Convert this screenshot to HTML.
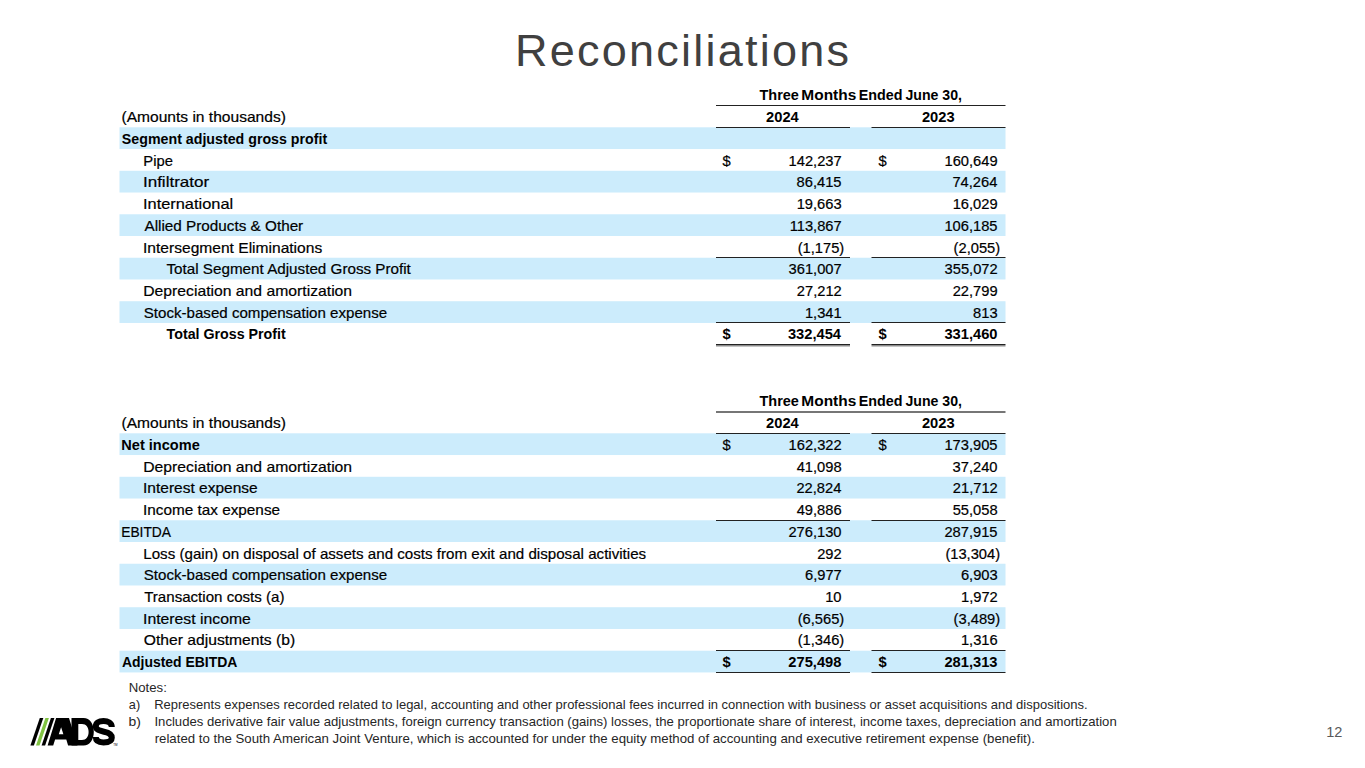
<!DOCTYPE html>
<html><head><meta charset="utf-8"><style>
html,body{margin:0;padding:0;background:#fff;width:1365px;height:768px;overflow:hidden}
svg{display:block;font-family:"Liberation Sans",sans-serif}
</style></head><body>
<svg width="1365" height="768" viewBox="0 0 1365 768">
<text x="759.51" y="99.80" font-size="15.0" font-weight="bold" fill="#000000" textLength="39.42" lengthAdjust="spacingAndGlyphs">Three</text>
<text x="801.37" y="99.80" font-size="15.0" font-weight="bold" fill="#000000" textLength="54.87" lengthAdjust="spacingAndGlyphs">Months</text>
<text x="858.75" y="99.80" font-size="15.0" font-weight="bold" fill="#000000" textLength="43.75" lengthAdjust="spacingAndGlyphs">Ended</text>
<text x="905.41" y="99.80" font-size="15.0" font-weight="bold" fill="#000000" textLength="56.56" lengthAdjust="spacingAndGlyphs">June 30,</text>
<text x="121.47" y="122.20" font-size="15.0" fill="#000000" stroke="#000000" stroke-width="0.2" textLength="164.38" lengthAdjust="spacingAndGlyphs">(Amounts in thousands)</text>
<text x="766.05" y="122.20" font-size="14.7" font-weight="bold" fill="#000000">2024</text>
<text x="921.90" y="122.20" font-size="14.7" font-weight="bold" fill="#000000">2023</text>
<rect x="119.50" y="127.30" width="886.00" height="21.74" fill="#CCECFC"/>
<rect x="119.50" y="170.78" width="886.00" height="21.74" fill="#CCECFC"/>
<rect x="119.50" y="214.26" width="886.00" height="21.74" fill="#CCECFC"/>
<rect x="119.50" y="257.74" width="886.00" height="21.74" fill="#CCECFC"/>
<rect x="119.50" y="301.22" width="886.00" height="21.74" fill="#CCECFC"/>
<rect x="716.00" y="105.00" width="289.50" height="1.00" fill="#222222"/>
<text x="121.83" y="143.80" font-size="15.0" font-weight="bold" fill="#000000" textLength="205.36" lengthAdjust="spacingAndGlyphs">Segment adjusted gross profit</text>
<text x="143.32" y="165.54" font-size="15.0" fill="#000000" stroke="#000000" stroke-width="0.2" textLength="29.60" lengthAdjust="spacingAndGlyphs">Pipe</text>
<text x="722.60" y="165.54" font-size="14.7" fill="#000000" stroke="#000000" stroke-width="0.2" textLength="8.18" lengthAdjust="spacingAndGlyphs">$</text>
<text x="788.60" y="165.54" font-size="14.7" fill="#000000" stroke="#000000" stroke-width="0.2">142,237</text>
<text x="878.40" y="165.54" font-size="14.7" fill="#000000" stroke="#000000" stroke-width="0.2" textLength="8.18" lengthAdjust="spacingAndGlyphs">$</text>
<text x="944.50" y="165.54" font-size="14.7" fill="#000000" stroke="#000000" stroke-width="0.2">160,649</text>
<text x="142.91" y="187.28" font-size="15.0" fill="#000000" stroke="#000000" stroke-width="0.2" textLength="66.36" lengthAdjust="spacingAndGlyphs">Infiltrator</text>
<text x="796.60" y="187.28" font-size="14.7" fill="#000000" stroke="#000000" stroke-width="0.2">86,415</text>
<text x="952.40" y="187.28" font-size="14.7" fill="#000000" stroke="#000000" stroke-width="0.2">74,264</text>
<text x="142.97" y="209.02" font-size="15.0" fill="#000000" stroke="#000000" stroke-width="0.2" textLength="90.18" lengthAdjust="spacingAndGlyphs">International</text>
<text x="796.70" y="209.02" font-size="14.7" fill="#000000" stroke="#000000" stroke-width="0.2">19,663</text>
<text x="952.70" y="209.02" font-size="14.7" fill="#000000" stroke="#000000" stroke-width="0.2">16,029</text>
<text x="144.50" y="230.76" font-size="15.0" fill="#000000" stroke="#000000" stroke-width="0.2" textLength="158.71" lengthAdjust="spacingAndGlyphs">Allied Products &amp; Other</text>
<text x="789.70" y="230.76" font-size="14.7" fill="#000000" stroke="#000000" stroke-width="0.2">113,867</text>
<text x="944.40" y="230.76" font-size="14.7" fill="#000000" stroke="#000000" stroke-width="0.2">106,185</text>
<text x="143.05" y="252.50" font-size="15.0" fill="#000000" stroke="#000000" stroke-width="0.2" textLength="179.15" lengthAdjust="spacingAndGlyphs">Intersegment Eliminations</text>
<text x="797.70" y="252.50" font-size="14.7" fill="#000000" stroke="#000000" stroke-width="0.2">(1,175)</text>
<text x="953.60" y="252.50" font-size="14.7" fill="#000000" stroke="#000000" stroke-width="0.2">(2,055)</text>
<text x="166.50" y="274.24" font-size="15.0" fill="#000000" stroke="#000000" stroke-width="0.2" textLength="244.35" lengthAdjust="spacingAndGlyphs">Total Segment Adjusted Gross Profit</text>
<text x="788.60" y="274.24" font-size="14.7" fill="#000000" stroke="#000000" stroke-width="0.2">361,007</text>
<text x="944.60" y="274.24" font-size="14.7" fill="#000000" stroke="#000000" stroke-width="0.2">355,072</text>
<text x="143.24" y="295.98" font-size="15.0" fill="#000000" stroke="#000000" stroke-width="0.2" textLength="208.88" lengthAdjust="spacingAndGlyphs">Depreciation and amortization</text>
<text x="796.80" y="295.98" font-size="14.7" fill="#000000" stroke="#000000" stroke-width="0.2">27,212</text>
<text x="952.70" y="295.98" font-size="14.7" fill="#000000" stroke="#000000" stroke-width="0.2">22,799</text>
<text x="143.80" y="317.72" font-size="15.0" fill="#000000" stroke="#000000" stroke-width="0.2" textLength="243.32" lengthAdjust="spacingAndGlyphs">Stock-based compensation expense</text>
<text x="804.90" y="317.72" font-size="14.7" fill="#000000" stroke="#000000" stroke-width="0.2">1,341</text>
<text x="973.10" y="317.72" font-size="14.7" fill="#000000" stroke="#000000" stroke-width="0.2">813</text>
<text x="166.61" y="339.46" font-size="15.0" font-weight="bold" fill="#000000" textLength="119.15" lengthAdjust="spacingAndGlyphs">Total Gross Profit</text>
<text x="722.60" y="339.46" font-size="14.7" font-weight="bold" fill="#000000" textLength="8.17" lengthAdjust="spacingAndGlyphs">$</text>
<text x="787.90" y="339.46" font-size="14.7" font-weight="bold" fill="#000000">332,454</text>
<text x="878.40" y="339.46" font-size="14.7" font-weight="bold" fill="#000000" textLength="8.17" lengthAdjust="spacingAndGlyphs">$</text>
<text x="944.40" y="339.46" font-size="14.7" font-weight="bold" fill="#000000">331,460</text>
<rect x="716.00" y="127.00" width="134.00" height="1.00" fill="#222222"/>
<rect x="871.50" y="127.00" width="134.00" height="1.00" fill="#222222"/>
<rect x="716.00" y="257.00" width="134.00" height="1.00" fill="#222222"/>
<rect x="871.50" y="257.00" width="134.00" height="1.00" fill="#222222"/>
<rect x="716.00" y="322.00" width="134.00" height="1.00" fill="#222222"/>
<rect x="871.50" y="322.00" width="134.00" height="1.00" fill="#222222"/>
<rect x="716.00" y="344.00" width="134.00" height="1.00" fill="#222222"/>
<rect x="716.00" y="345.00" width="134.00" height="1.50" fill="#8c8c8c"/>
<rect x="871.50" y="344.00" width="134.00" height="1.00" fill="#222222"/>
<rect x="871.50" y="345.00" width="134.00" height="1.50" fill="#8c8c8c"/>
<text x="759.51" y="405.80" font-size="15.0" font-weight="bold" fill="#000000" textLength="39.42" lengthAdjust="spacingAndGlyphs">Three</text>
<text x="801.37" y="405.80" font-size="15.0" font-weight="bold" fill="#000000" textLength="54.87" lengthAdjust="spacingAndGlyphs">Months</text>
<text x="858.75" y="405.80" font-size="15.0" font-weight="bold" fill="#000000" textLength="43.75" lengthAdjust="spacingAndGlyphs">Ended</text>
<text x="905.41" y="405.80" font-size="15.0" font-weight="bold" fill="#000000" textLength="56.56" lengthAdjust="spacingAndGlyphs">June 30,</text>
<text x="121.47" y="428.30" font-size="15.0" fill="#000000" stroke="#000000" stroke-width="0.2" textLength="164.38" lengthAdjust="spacingAndGlyphs">(Amounts in thousands)</text>
<text x="766.05" y="428.30" font-size="14.7" font-weight="bold" fill="#000000">2024</text>
<text x="921.90" y="428.30" font-size="14.7" font-weight="bold" fill="#000000">2023</text>
<rect x="119.50" y="433.30" width="886.00" height="21.74" fill="#CCECFC"/>
<rect x="119.50" y="476.78" width="886.00" height="21.74" fill="#CCECFC"/>
<rect x="119.50" y="520.26" width="886.00" height="21.74" fill="#CCECFC"/>
<rect x="119.50" y="563.74" width="886.00" height="21.74" fill="#CCECFC"/>
<rect x="119.50" y="607.22" width="886.00" height="21.74" fill="#CCECFC"/>
<rect x="119.50" y="650.70" width="886.00" height="21.74" fill="#CCECFC"/>
<rect x="716.00" y="411.20" width="289.50" height="1.60" fill="#555555"/>
<text x="121.33" y="449.80" font-size="15.0" font-weight="bold" fill="#000000" textLength="78.40" lengthAdjust="spacingAndGlyphs">Net income</text>
<text x="722.60" y="449.80" font-size="14.7" fill="#000000" stroke="#000000" stroke-width="0.2" textLength="8.18" lengthAdjust="spacingAndGlyphs">$</text>
<text x="788.60" y="449.80" font-size="14.7" fill="#000000" stroke="#000000" stroke-width="0.2">162,322</text>
<text x="878.40" y="449.80" font-size="14.7" fill="#000000" stroke="#000000" stroke-width="0.2" textLength="8.18" lengthAdjust="spacingAndGlyphs">$</text>
<text x="944.40" y="449.80" font-size="14.7" fill="#000000" stroke="#000000" stroke-width="0.2">173,905</text>
<text x="143.24" y="471.54" font-size="15.0" fill="#000000" stroke="#000000" stroke-width="0.2" textLength="208.88" lengthAdjust="spacingAndGlyphs">Depreciation and amortization</text>
<text x="796.70" y="471.54" font-size="14.7" fill="#000000" stroke="#000000" stroke-width="0.2">41,098</text>
<text x="952.60" y="471.54" font-size="14.7" fill="#000000" stroke="#000000" stroke-width="0.2">37,240</text>
<text x="143.05" y="493.28" font-size="15.0" fill="#000000" stroke="#000000" stroke-width="0.2" textLength="114.57" lengthAdjust="spacingAndGlyphs">Interest expense</text>
<text x="796.40" y="493.28" font-size="14.7" fill="#000000" stroke="#000000" stroke-width="0.2">22,824</text>
<text x="952.80" y="493.28" font-size="14.7" fill="#000000" stroke="#000000" stroke-width="0.2">21,712</text>
<text x="143.07" y="515.02" font-size="15.0" fill="#000000" stroke="#000000" stroke-width="0.2" textLength="136.99" lengthAdjust="spacingAndGlyphs">Income tax expense</text>
<text x="796.70" y="515.02" font-size="14.7" fill="#000000" stroke="#000000" stroke-width="0.2">49,886</text>
<text x="952.70" y="515.02" font-size="14.7" fill="#000000" stroke="#000000" stroke-width="0.2">55,058</text>
<text x="121.20" y="536.76" font-size="15.0" fill="#000000" stroke="#000000" stroke-width="0.2" textLength="49.78" lengthAdjust="spacingAndGlyphs">EBITDA</text>
<text x="788.40" y="536.76" font-size="14.7" fill="#000000" stroke="#000000" stroke-width="0.2">276,130</text>
<text x="944.40" y="536.76" font-size="14.7" fill="#000000" stroke="#000000" stroke-width="0.2">287,915</text>
<text x="143.29" y="558.50" font-size="15.0" fill="#000000" stroke="#000000" stroke-width="0.2" textLength="502.89" lengthAdjust="spacingAndGlyphs">Loss (gain) on disposal of assets and costs from exit and disposal activities</text>
<text x="817.20" y="558.50" font-size="14.7" fill="#000000" stroke="#000000" stroke-width="0.2">292</text>
<text x="945.40" y="558.50" font-size="14.7" fill="#000000" stroke="#000000" stroke-width="0.2">(13,304)</text>
<text x="143.80" y="580.24" font-size="15.0" fill="#000000" stroke="#000000" stroke-width="0.2" textLength="243.32" lengthAdjust="spacingAndGlyphs">Stock-based compensation expense</text>
<text x="805.00" y="580.24" font-size="14.7" fill="#000000" stroke="#000000" stroke-width="0.2">6,977</text>
<text x="960.90" y="580.24" font-size="14.7" fill="#000000" stroke="#000000" stroke-width="0.2">6,903</text>
<text x="144.20" y="601.98" font-size="15.0" fill="#000000" stroke="#000000" stroke-width="0.2" textLength="140.30" lengthAdjust="spacingAndGlyphs">Transaction costs (a)</text>
<text x="825.20" y="601.98" font-size="14.7" fill="#000000" stroke="#000000" stroke-width="0.2">10</text>
<text x="961.00" y="601.98" font-size="14.7" fill="#000000" stroke="#000000" stroke-width="0.2">1,972</text>
<text x="143.03" y="623.72" font-size="15.0" fill="#000000" stroke="#000000" stroke-width="0.2" textLength="107.85" lengthAdjust="spacingAndGlyphs">Interest income</text>
<text x="797.70" y="623.72" font-size="14.7" fill="#000000" stroke="#000000" stroke-width="0.2">(6,565)</text>
<text x="953.60" y="623.72" font-size="14.7" fill="#000000" stroke="#000000" stroke-width="0.2">(3,489)</text>
<text x="143.77" y="645.46" font-size="15.0" fill="#000000" stroke="#000000" stroke-width="0.2" textLength="151.42" lengthAdjust="spacingAndGlyphs">Other adjustments (b)</text>
<text x="797.70" y="645.46" font-size="14.7" fill="#000000" stroke="#000000" stroke-width="0.2">(1,346)</text>
<text x="960.90" y="645.46" font-size="14.7" fill="#000000" stroke="#000000" stroke-width="0.2">1,316</text>
<text x="121.93" y="667.20" font-size="15.0" font-weight="bold" fill="#000000" textLength="115.51" lengthAdjust="spacingAndGlyphs">Adjusted EBITDA</text>
<text x="722.60" y="667.20" font-size="14.7" font-weight="bold" fill="#000000" textLength="8.17" lengthAdjust="spacingAndGlyphs">$</text>
<text x="788.30" y="667.20" font-size="14.7" font-weight="bold" fill="#000000">275,498</text>
<text x="878.40" y="667.20" font-size="14.7" font-weight="bold" fill="#000000" textLength="8.17" lengthAdjust="spacingAndGlyphs">$</text>
<text x="944.40" y="667.20" font-size="14.7" font-weight="bold" fill="#000000">281,313</text>
<rect x="716.00" y="433.00" width="134.00" height="1.00" fill="#222222"/>
<rect x="871.50" y="433.00" width="134.00" height="1.00" fill="#222222"/>
<rect x="716.00" y="520.00" width="134.00" height="1.00" fill="#222222"/>
<rect x="871.50" y="520.00" width="134.00" height="1.00" fill="#222222"/>
<rect x="716.00" y="650.00" width="134.00" height="1.00" fill="#222222"/>
<rect x="871.50" y="650.00" width="134.00" height="1.00" fill="#222222"/>
<rect x="716.00" y="672.00" width="134.00" height="1.00" fill="#222222"/>
<rect x="871.50" y="672.00" width="134.00" height="1.00" fill="#222222"/>
<text x="128.75" y="691.80" font-size="12.6" fill="#262626" textLength="38.11" lengthAdjust="spacingAndGlyphs">Notes:</text>
<text x="128.89" y="708.50" font-size="12.6" fill="#262626" textLength="11.32" lengthAdjust="spacingAndGlyphs">a)</text>
<text x="154.22" y="708.50" font-size="12.6" fill="#262626" textLength="933.36" lengthAdjust="spacingAndGlyphs">Represents expenses recorded related to legal, accounting and other professional fees incurred in connection with business or asset acquisitions and dispositions.</text>
<text x="128.52" y="725.60" font-size="12.6" fill="#262626" textLength="12.37" lengthAdjust="spacingAndGlyphs">b)</text>
<text x="154.45" y="725.60" font-size="12.6" fill="#262626" textLength="962.26" lengthAdjust="spacingAndGlyphs">Includes derivative fair value adjustments, foreign currency transaction (gains) losses, the proportionate share of interest, income taxes, depreciation and amortization</text>
<text x="154.66" y="742.70" font-size="12.6" fill="#262626" textLength="880.19" lengthAdjust="spacingAndGlyphs">related to the South American Joint Venture, which is accounted for under the equity method of accounting and executive retirement expense (benefit).</text>
<text x="1326.26" y="737.00" font-size="14" fill="#595959" textLength="16.19" lengthAdjust="spacingAndGlyphs">12</text>
<text x="514.90" y="66.10" font-size="45" fill="#404040" textLength="334.05" lengthAdjust="spacing">Reconciliations</text>

<g>
<polygon points="30.4,745.4 33.9,745.4 43.3,718 39.8,718" fill="#000"/>
<polygon points="36.0,745.4 39.5,745.4 48.9,718 45.4,718" fill="#80C342"/>
<polygon points="41.6,745.4 45.1,745.4 54.4,718 50.9,718" fill="#000"/>
<path fill="#000" fill-rule="evenodd" d="M47.6,745.4 L56.1,718 L69,718 L77.5,745.4 L68.1,745.4 L66.3,739.5 L55.1,739.5 L53.2,745.4 Z M61.1,727.2 L58.8,734.3 L63.4,734.3 Z"/>
<path fill="#000" fill-rule="evenodd" d="M71.5,718 H83.5 C90,718 93.8,724 93.8,731.7 C93.8,739.5 90,745.4 83.5,745.4 H71.5 Z M78.3,724 H82 C86.2,724 88.6,727.5 88.6,732 C88.6,736.5 86.2,740 82,740 H78.3 Z"/>
<path fill="none" stroke="#000" stroke-width="6" d="M111.8,727 C111.8,723 108,721 103.5,721 C98.5,721 95.8,723.2 95.8,726.3 C95.8,729.8 99.5,730.8 104,731.7 C108.8,732.6 111.8,734 111.8,737.8 C111.8,741 108.5,742.4 103.5,742.4 C98.5,742.4 95.8,740.5 95.8,737"/>
<text x="113.2" y="745.9" font-size="3" fill="#000">TM</text>
</g>

</svg>
</body></html>
